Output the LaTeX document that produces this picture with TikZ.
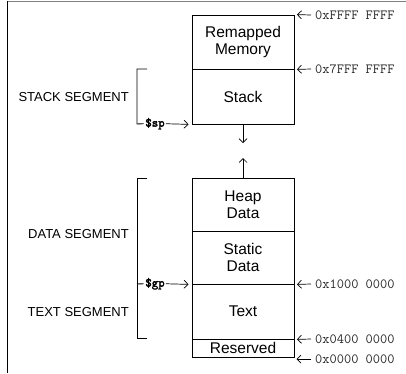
\documentclass[tikz,border=0pt]{standalone}
\usepackage{fontspec}
\setmainfont{Liberation Sans}
\newfontfamily\regfont[FakeBold=2.5]{Latin Modern Mono}
\usetikzlibrary{arrows.meta}
\begin{document}
\begin{tikzpicture}[x=1pt,y=-1pt,
  seg/.style={draw=black,line width=0.9pt,minimum width=102pt,inner sep=0pt,align=center,
    font=\fontsize{15.5}{16.5}\selectfont},
  lab/.style={anchor=east,inner sep=0pt,font=\fontsize{13}{14}\selectfont},
  addr/.style={anchor=west,inner sep=0pt,text=black!85,font=\ttfamily\fontsize{14}{15}\selectfont},
  reg/.style={anchor=mid,inner sep=0pt,font=\regfont\fontsize{12.5}{13}\selectfont},
  ln/.style={line width=0.9pt},
  arr/.style={line width=0.7pt,-{Straight Barb[length=4pt,width=8pt]}},
]
\useasboundingbox (0,0) rectangle (406,373);
% frame
\draw[line width=1pt,black!50] (7,1.7) -- (406,1.7);
\draw[line width=1pt] (7,1.2) -- (7,373);

% memory boxes
\node[seg,minimum height=54pt] (remap) at (243,42) {Remapped\\Memory};
\node[seg,minimum height=55pt] (stack) at (243,96.5) {Stack};
\node[seg,minimum height=53pt] (heap) at (243,204.5) {Heap\\Data};
\node[seg,minimum height=53pt] (static) at (243,257.5) {Static\\Data};
\node[seg,minimum height=55pt] (text) at (243,311.5) {Text};
\node[seg,minimum height=18pt] (res) at (243,348) {Reserved};

% growth arrows
\coordinate (down) at (243,143);
\coordinate (up) at (243,158);
\draw[arr] (stack.south) -- (down);
\draw[arr] (heap.north) -- (up);

% addresses
\node[addr] (a1) at (315,15) {0xFFFF FFFF};
\node[addr] (a2) at (315,69) {0x7FFF FFFF};
\node[addr] (a3) at (315,284) {0x1000 0000};
\node[addr] (a4) at (315,339) {0x0400 0000};
\node[addr] (a5) at (315,359) {0x0000 0000};
\coordinate (r5) at (294,359);
\draw[arr,shorten >=2.5pt] (a1.west) ++(-4,0) -- (remap.north east);
\draw[arr,shorten >=2.5pt] (a2.west) ++(-4,0) -- (remap.south east);
\draw[arr,shorten >=2.5pt] (a3.west) ++(-4,0) -- (static.south east);
\draw[arr,shorten >=2.5pt] (a4.west) ++(-4,0) -- (text.south east);
\draw[arr,shorten >=2.5pt] (a5.west) ++(-4,0) -- (r5);

% segment labels
\node[lab] (ls) at (129,97) {STACK SEGMENT};
\node[lab] (ld) at (129,234) {DATA SEGMENT};
\node[lab] (lt) at (129,312) {TEXT SEGMENT};

% registers
\node[reg] (sp) at (155,124) {\$sp};
\node[reg] (gp) at (155,284) {\$gp};
\draw[arr,shorten <=1pt,shorten >=3pt] (sp.east) -- (stack.south west);
\draw[arr,shorten <=1pt,shorten >=3pt] (gp.east) -- (static.south west);

% brackets
\coordinate (st) at (147,69);
\coordinate (dt) at (147,178);
\coordinate (db) at (147,338);
\draw[ln] (st) -| (137,124) -- ([xshift=-1.5pt]sp.west);
\draw[ln] (dt) -| (137,338) -- (db);
\draw[ln] (137,284) -- ([xshift=-1.5pt]gp.west);
\end{tikzpicture}
\end{document}
